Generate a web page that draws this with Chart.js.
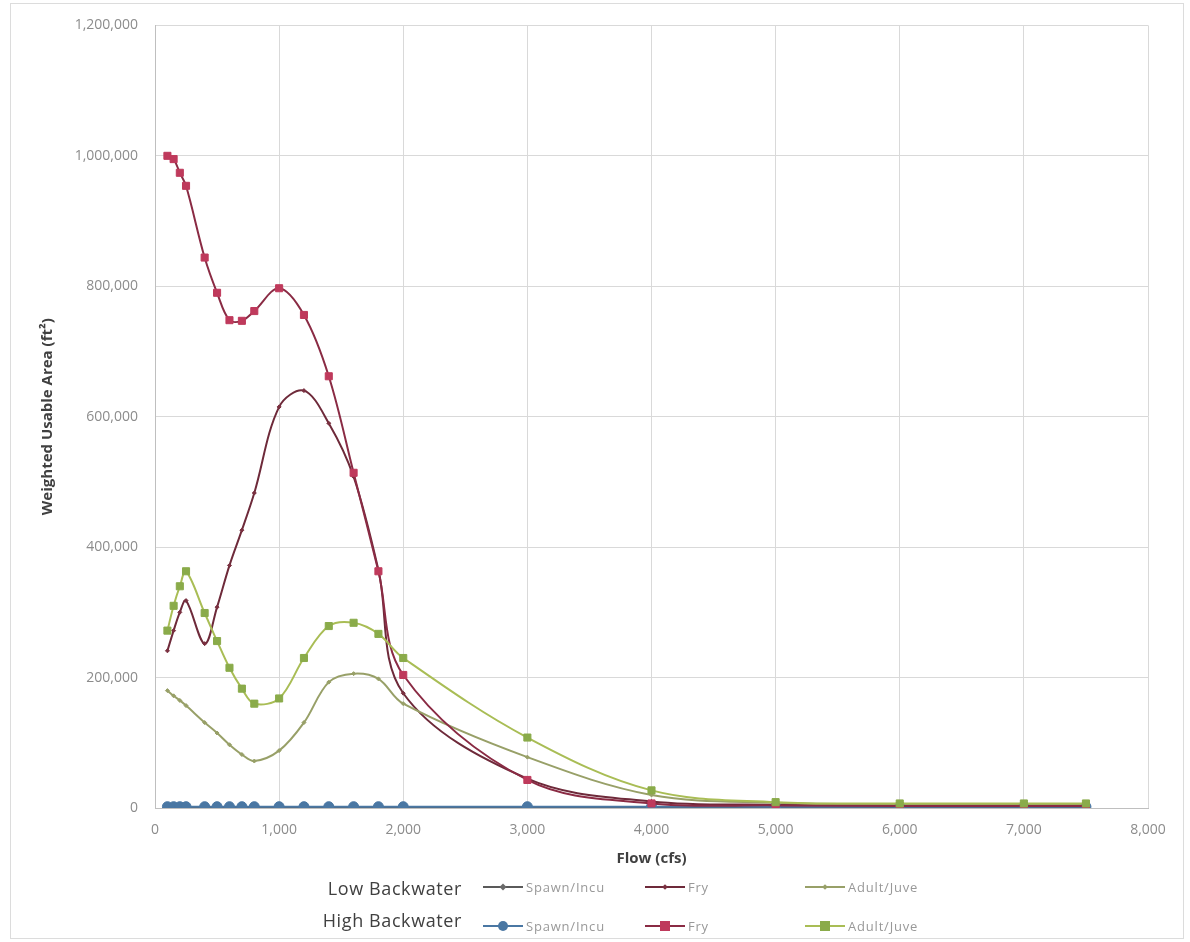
<!DOCTYPE html>
<html lang="en">
<head>
  <meta charset="UTF-8" />
  <title>Weighted Usable Area vs Flow</title>
  <script src="https://cdn.jsdelivr.net/npm/chart.js"></script>
  <style>
    body {
      margin: 0;
      background: #fff;
      font-family: "Open Sans", sans-serif;
    }

    .wrap {
      position: relative;
      width: 1190px;
      height: 942px;
    }

    .frame {
      position: absolute;
      left: 10px;
      top: 3px;
      width: 1172px;
      height: 934px;
      border: 1px solid #dcdcdc;
      pointer-events: none;
    }

    .group {
      position: absolute;
      right: 728px;
      font-size: 18px;
      letter-spacing: 0.6px;
      color: #404040;
      line-height: 22px;
      white-space: nowrap;
    }

    .item {
      position: absolute;
      height: 20px;
      display: flex;
      align-items: center;
      white-space: nowrap;
      font-size: 13px;
      letter-spacing: 0.8px;
      color: #999;
    }

    .sample {
      position: relative;
      width: 40px;
      height: 20px;
      margin-right: 3px;
    }

    .sample .ln {
      position: absolute;
      left: 0;
      right: 0;
      top: 9px;
      height: 2px;
    }

    .sample .mk {
      position: absolute;
      left: 50%;
      top: 50%;
      transform: translate(-50%, -50%);
    }
  </style>
</head>
<body>
  <div class="wrap">
    <canvas id="chart" width="1190" height="942"></canvas>
    <div class="frame"></div>
    <div id="legend"></div>
  </div>

  <script>
    // flow (cfs) at each modelled point
    const flows = [100, 150, 200, 250, 400, 500, 600, 700, 800, 1000, 1200, 1400, 1600, 1800, 2000, 3000, 4000, 5000, 6000, 7000, 7500];

    // Low Backwater
    const lowSpawn = [1500, 1500, 1500, 1500, 1500, 1500, 1500, 1500, 1500, 1500, 1500, 1500, 1500, 1500, 1500, 1500, 1500, 1500, 1500, 1500, 1500];
    const lowFry = [241000, 272000, 300000, 318000, 252000, 308000, 372000, 426000, 483000, 615000, 640000, 590000, 508000, 365000, 176000, 45000, 10000, 5000, 4000, 4000, 4000];
    const lowAdult = [180000, 172000, 165000, 157000, 131000, 115000, 97000, 82000, 72000, 88000, 131000, 193000, 206000, 198000, 160000, 78000, 20000, 8000, 6000, 6000, 6000];

    // High Backwater
    const highSpawn = [2000, 2000, 2000, 2000, 2000, 2000, 2000, 2000, 2000, 2000, 2000, 2000, 2000, 2000, 2000, 2000, 2000, 2000, 2000, 2000, 2000];
    const highFry = [1000000, 995000, 974000, 954000, 844000, 790000, 748000, 747000, 762000, 797000, 756000, 662000, 514000, 363000, 204000, 43000, 7000, 4000, 3000, 3000, 3000];
    const highAdult = [272000, 310000, 340000, 363000, 299000, 256000, 215000, 183000, 160000, 168000, 230000, 279000, 284000, 267000, 230000, 108000, 27000, 9000, 7000, 7000, 7000];

    const yTicks = [0, 200000, 400000, 600000, 800000, 1000000, 1200000];
    const xTicks = [0, 1000, 2000, 3000, 4000, 5000, 6000, 7000, 8000];

    const pts = arr => flows.map((f, i) => ({ x: f, y: arr[i] }));

    const series = [
      { group: "low", label: "Spawn/Incu", data: lowSpawn, line: "#5a5a5a", fill: "#6a6a6a", style: "rectRot", r: 2.5, order: 6 },
      { group: "low", label: "Fry", data: lowFry, line: "#6e2a3a", fill: "#7a3040", style: "rectRot", r: 2, order: 5 },
      { group: "low", label: "Adult/Juve", data: lowAdult, line: "#98a068", fill: "#98a068", style: "rectRot", r: 2, order: 4 },
      { group: "high", label: "Spawn/Incu", data: highSpawn, line: "#4a77a3", fill: "#4a77a3", style: "circle", r: 5, order: 3 },
      { group: "high", label: "Fry", data: highFry, line: "#8a2b44", fill: "#bf3a5c", style: "rect", r: 5, order: 2 },
      { group: "high", label: "Adult/Juve", data: highAdult, line: "#a9bd55", fill: "#8aab4a", style: "rect", r: 5, order: 1 }
    ];

    const datasets = series.map(s => ({
      label: s.label,
      data: pts(s.data),
      borderColor: s.line,
      backgroundColor: s.fill,
      borderWidth: 2,
      pointStyle: s.style,
      pointRadius: s.r,
      pointBackgroundColor: s.fill,
      pointBorderColor: s.fill,
      pointBorderWidth: 1,
      tension: 0.35,
      order: s.order
    }));

    const fmt = v => v.toLocaleString("en-US");

    new Chart(document.getElementById("chart"), {
      type: "line",
      data: { datasets: datasets },
      options: {
        responsive: false,
        animation: false,
        devicePixelRatio: 1,
        layout: { padding: { left: 35, top: 24, right: 42, bottom: 70 } },
        plugins: {
          legend: { display: false },
          tooltip: { enabled: false }
        },
        scales: {
          x: {
            type: "linear",
            min: 0,
            max: 8000,
            afterBuildTicks: s => { s.ticks = xTicks.map(v => ({ value: v })); },
            afterFit: s => { s.height = 64; },
            grid: { color: "#d9d9d9", drawTicks: false },
            border: { color: "#bfbfbf" },
            ticks: {
              padding: 14,
              color: "#8c8c8c",
              font: { family: "Open Sans", size: 14 },
              callback: v => fmt(v)
            },
            title: {
              display: true,
              text: "Flow (cfs)",
              color: "#404040",
              font: { family: "Open Sans", size: 15, weight: "bold" }
            }
          },
          y: {
            min: 0,
            max: 1200000,
            afterBuildTicks: s => { s.ticks = yTicks.map(v => ({ value: v })); },
            afterFit: s => { s.width = 120; },
            grid: { color: "#d9d9d9", drawTicks: false },
            border: { color: "#bfbfbf" },
            ticks: {
              padding: 17,
              color: "#8c8c8c",
              font: { family: "Open Sans", size: 14 },
              callback: v => fmt(v)
            },
            title: {
              display: true,
              text: "Weighted Usable Area (ft²)",
              color: "#404040",
              font: { family: "Open Sans", size: 15, weight: "bold" }
            }
          }
        }
      }
    });

    // two-row legend under the chart
    const legend = document.getElementById("legend");
    const rows = { low: { name: "Low Backwater", labelY: 877, itemY: 877 }, high: { name: "High Backwater", labelY: 909, itemY: 916 } };
    const itemX = { "Spawn/Incu": 483, "Fry": 645, "Adult/Juve": 805 };

    Object.keys(rows).forEach(key => {
      const g = document.createElement("div");
      g.className = "group";
      g.style.top = rows[key].labelY + "px";
      g.textContent = rows[key].name;
      legend.appendChild(g);
    });

    series.forEach(s => {
      const it = document.createElement("div");
      it.className = "item";
      it.style.left = itemX[s.label] + "px";
      it.style.top = rows[s.group].itemY + "px";
      const size = s.r * 2;
      let mkStyle = `width:${size}px;height:${size}px;background:${s.fill};`;
      if (s.style === "circle") mkStyle += "border-radius:50%;";
      if (s.style === "rectRot") mkStyle += "transform:translate(-50%,-50%) rotate(45deg);";
      it.innerHTML =
        `<span class="sample"><span class="ln" style="background:${s.line}"></span>` +
        `<span class="mk" style="${mkStyle}"></span></span><span>${s.label}</span>`;
      legend.appendChild(it);
    });
  </script>
</body>
</html>
